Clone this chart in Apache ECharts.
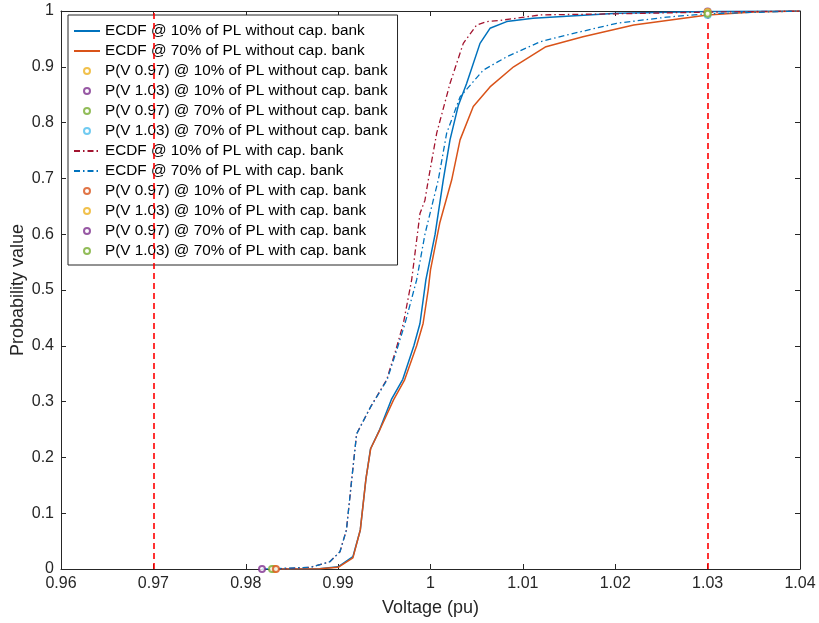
<!DOCTYPE html>
<html>
<head>
<meta charset="utf-8">
<script src="https://cdn.jsdelivr.net/npm/echarts@6.0.0/dist/echarts.min.js"></script>
<style>
  html, body { margin: 0; padding: 0; background: #fff; }
  #chart { width: 819px; height: 623px; }
</style>
</head>
<body>
<div id="chart"></div>
<script>
// ECDF curves, voltage (pu) vs cumulative probability
const volt10 = [0.9831, 0.988, 0.990, 0.9916, 0.9924, 0.9930, 0.9935, 0.9945, 0.9958, 0.9970, 0.9982, 0.99886, 0.9995, 1.0005, 1.00138, 1.00211, 1.0030, 1.00391, 1.00536, 1.00644, 1.00825, 1.0111, 1.0202, 1.03, 1.04]
const prob10 = [0, 0.0005, 0.004, 0.022, 0.07, 0.16, 0.215, 0.25, 0.305, 0.34, 0.40, 0.44, 0.518, 0.60, 0.697, 0.769, 0.83, 0.870, 0.942, 0.969, 0.981, 0.987, 0.996, 0.999, 1.0]

const volt70 = [0.98284, 0.988, 0.990, 0.9916, 0.9924, 0.9930, 0.99353, 0.9945, 0.996, 0.9972, 0.9985, 0.9992, 0.99975, 1.0000, 1.0010, 1.00229, 1.0032, 1.00463, 1.00644, 1.0090, 1.0125, 1.0165, 1.0220, 1.0274, 1.030, 1.035, 1.04]
const prob70 = [0, 0.0005, 0.003, 0.02, 0.07, 0.16, 0.216, 0.249, 0.303, 0.339, 0.40, 0.44, 0.50, 0.536, 0.62, 0.697, 0.769, 0.829, 0.864, 0.900, 0.936, 0.954, 0.975, 0.987, 0.993, 0.998, 1.0]

const volt10Cap = [0.98327, 0.987, 0.9891, 0.9902, 0.9909, 0.99147, 0.9920, 0.9935, 0.99525, 0.9962, 0.99706, 0.99796, 0.99886, 0.9994, 0.99976, 1.00067, 1.00211, 1.00355, 1.0050, 1.00608, 1.0075, 1.0119, 1.0202, 1.03, 1.04]
const prob10Cap = [0, 0.003, 0.013, 0.031, 0.07, 0.16, 0.242, 0.29, 0.339, 0.39, 0.44, 0.518, 0.637, 0.661, 0.697, 0.781, 0.870, 0.942, 0.975, 0.981, 0.983, 0.993, 0.995, 0.998, 1.0]

const volt70Cap = [0.98176, 0.987, 0.9891, 0.9902, 0.9909, 0.99147, 0.9920, 0.9935, 0.9953, 0.9963, 0.99724, 0.9985, 0.9994, 1.0003, 1.00084, 1.00175, 1.0032, 1.00571, 1.00825, 1.0119, 1.01474, 1.02015, 1.02557, 1.0299, 1.04]
const prob70Cap = [0, 0.003, 0.013, 0.031, 0.07, 0.16, 0.242, 0.29, 0.339, 0.39, 0.44, 0.518, 0.60, 0.661, 0.697, 0.781, 0.846, 0.894, 0.918, 0.945, 0.957, 0.978, 0.989, 0.995, 1.0]

// single probability points
const pointNames = [
  'P(V 0.97) @ 10% of PL without cap. bank',
  'P(V 1.03) @ 10% of PL without cap. bank',
  'P(V 0.97) @ 70% of PL without cap. bank',
  'P(V 1.03) @ 70% of PL without cap. bank',
  'P(V 0.97) @ 10% of PL with cap. bank',
  'P(V 1.03) @ 10% of PL with cap. bank',
  'P(V 0.97) @ 70% of PL with cap. bank',
  'P(V 1.03) @ 70% of PL with cap. bank'
]
const pointVolts = [0.9831, 1.03, 0.98284, 1.03, 0.98327, 1.03, 0.98176, 1.03]
const pointProbs = [0, 0.999, 0, 0.993, 0, 0.998, 0, 0.995]

const limitVolts = [0.97, 1.03]
const xTicks = { min: 0.96, max: 1.04, step: 0.01 }
const yTicks = { min: 0, max: 1, step: 0.1 }

const zip = (xs, ys) => xs.map((x, i) => [x, ys[i]])

const font = "'Liberation Sans', Arial, Helvetica, sans-serif"
const axisColor = '#262626'
const pointColors = ['#EDB120', '#7E2F8E', '#77AC30', '#4DBEEE', '#D95319', '#EDB120', '#7E2F8E', '#77AC30']

const lineSeries = (name, xs, ys, color, dashed) => ({
  name,
  type: 'line',
  data: zip(xs, ys),
  showSymbol: false,
  symbol: 'none',
  smooth: false,
  lineStyle: { color, width: dashed ? 1.3 : 1.5, type: dashed ? [6, 3, 1.5, 3] : 'solid' },
  itemStyle: { color },
  z: 3
})

const pointSeries = pointNames.map((name, i) => ({
  name,
  type: 'scatter',
  data: [[pointVolts[i], pointProbs[i]]],
  symbol: 'emptyCircle',
  symbolSize: 6,
  itemStyle: { color: pointColors[i], borderWidth: 1 },
  z: 5
}))

const series = [
  {
    name: 'limits',
    type: 'line',
    data: [],
    markLine: {
      silent: true,
      symbol: 'none',
      label: { show: false },
      lineStyle: { color: '#FF0000', width: 1.6, type: [6, 4], opacity: 1 },
      data: limitVolts.map(v => ({ xAxis: v }))
    },
    z: 1
  },
  lineSeries('ECDF @ 10% of PL without cap. bank', volt10, prob10, '#0072BD', false),
  lineSeries('ECDF @ 70% of PL without cap. bank', volt70, prob70, '#D95319', false),
  ...pointSeries.slice(0, 4),
  lineSeries('ECDF @ 10% of PL with cap. bank', volt10Cap, prob10Cap, '#A2142F', true),
  lineSeries('ECDF @ 70% of PL with cap. bank', volt70Cap, prob70Cap, '#0072BD', true),
  ...pointSeries.slice(4)
]

// hide the dot that line series put in the middle of their legend icon
const legendData = series.filter(s => s.name !== 'limits').map(s =>
  s.type === 'line' ? { name: s.name, itemStyle: { opacity: 0 } } : { name: s.name }
)

const valueAxis = (extra) => Object.assign({
  type: 'value',
  axisLine: { show: true, onZero: false, lineStyle: { color: axisColor, width: 1 } },
  axisTick: { show: true, inside: true, length: 5, lineStyle: { color: axisColor } },
  splitLine: { show: false },
  axisLabel: { color: axisColor, fontFamily: font, fontSize: 16 }
}, extra)

const chart = echarts.init(document.getElementById('chart'), null, { renderer: 'canvas' })
chart.setOption({
  animation: false,
  backgroundColor: '#fff',
  grid: { left: 61, right: 19, top: 11, bottom: 54, containLabel: false, outerBoundsMode: 'none' },
  legend: {
    data: legendData,
    orient: 'vertical',
    left: 68,
    top: 15,
    padding: [6, 10, 4, 5],
    itemWidth: 26,
    itemHeight: 6,
    itemGap: 0,
    backgroundColor: '#fff',
    borderColor: axisColor,
    borderWidth: 1,
    textStyle: { color: '#000', fontFamily: font, fontSize: 15.3, lineHeight: 20 },
    selectedMode: false
  },
  xAxis: [
    valueAxis({
      min: xTicks.min, max: xTicks.max, interval: xTicks.step,
      name: 'Voltage (pu)', nameLocation: 'middle', nameGap: 30, nameMoveOverlap: false,
      nameTextStyle: { color: axisColor, fontFamily: font, fontSize: 18 },
      axisLabel: { color: axisColor, fontFamily: font, fontSize: 16, margin: 7 }
    }),
    valueAxis({
      position: 'top', min: xTicks.min, max: xTicks.max, interval: xTicks.step,
      axisLabel: { show: false }
    })
  ],
  yAxis: [
    valueAxis({
      min: yTicks.min, max: yTicks.max, interval: yTicks.step,
      name: 'Probability value', nameLocation: 'middle', nameGap: 34, nameMoveOverlap: false,
      nameTextStyle: { color: axisColor, fontFamily: font, fontSize: 18 },
      axisLabel: { color: axisColor, fontFamily: font, fontSize: 16, margin: 7 }
    }),
    valueAxis({
      position: 'right', min: yTicks.min, max: yTicks.max, interval: yTicks.step,
      axisLabel: { show: false }
    })
  ],
  series
})
</script>
</body>
</html>
